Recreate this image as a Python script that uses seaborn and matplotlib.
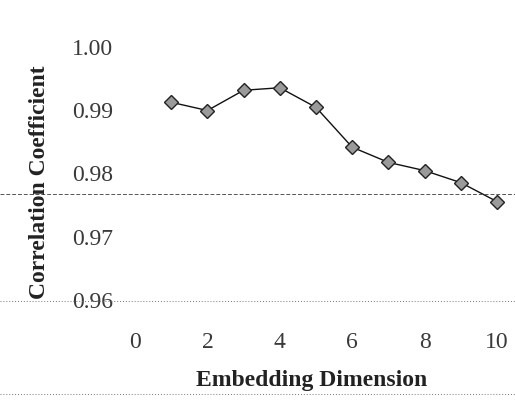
import matplotlib
matplotlib.use("Agg")
import matplotlib.pyplot as plt
import seaborn as sns
import pandas as pd
from matplotlib.lines import Line2D

dimension = [1, 2, 3, 4, 5, 6, 7, 8, 9, 10]
correlation = [0.9911, 0.9898, 0.9930, 0.9934, 0.9903, 0.9840, 0.9816, 0.9803, 0.9784, 0.9754]
x_ticks = [0, 2, 4, 6, 8, 10]
y_ticks = [0.96, 0.97, 0.98, 0.99, 1.00]

sns.set_theme(style="white")
plt.rcParams['font.family'] = ['Liberation Serif', 'DejaVu Serif']

df = pd.DataFrame({"Embedding Dimension": dimension, "Correlation Coefficient": correlation})

fig = plt.figure(figsize=(5.15, 4.10), dpi=100)
ax = fig.add_axes([135/515, 1 - 300/410, 362/515, 253/410])

sns.lineplot(data=df, x="Embedding Dimension", y="Correlation Coefficient", ax=ax,
             color="#111111", linewidth=1.0, marker="D", markersize=7,
             markerfacecolor="#9a9a9a", markeredgecolor="#222222", markeredgewidth=1.0,
             clip_on=False)

ax.set_xlim(0, 10)
ax.set_ylim(0.96, 1.00)
ax.set_xticks(x_ticks)
ax.set_xticklabels([str(t) for t in x_ticks])
ax.set_yticks(y_ticks)
ax.set_yticklabels([f"{t:.2f}" for t in y_ticks])
ax.tick_params(axis='x', length=0, pad=23, labelsize=17, colors="#3a3a3a")
ax.tick_params(axis='y', length=0, pad=16, labelsize=17, colors="#3a3a3a")
for s in ax.spines.values():
    s.set_visible(False)
ax.set_facecolor("none")
ax.set_xlabel("")
ax.set_ylabel("")

fig.text(40/515, 1 - 182/410, "Correlation Coefficient", rotation=90, ha="center", va="center",
         fontsize=17, fontweight="bold", color="#222222")
fig.text(312/515, 1 - 381/410, "Embedding Dimension", ha="center", va="center",
         fontsize=17, fontweight="bold", color="#222222")

# scan-like rule lines across the page
fig.add_artist(Line2D([0, 1], [1 - 195/410, 1 - 195/410], transform=fig.transFigure,
                      color="#555555", linewidth=0.7, linestyle=(0, (4, 2))))
fig.add_artist(Line2D([0, 1], [1 - 302/410, 1 - 302/410], transform=fig.transFigure,
                      color="#777777", linewidth=0.7, linestyle=(0, (1, 2))))
fig.add_artist(Line2D([0, 1], [1 - 395/410, 1 - 395/410], transform=fig.transFigure,
                      color="#777777", linewidth=0.7, linestyle=(0, (1, 2))))

fig.savefig("out.png", dpi=100, facecolor="white")
